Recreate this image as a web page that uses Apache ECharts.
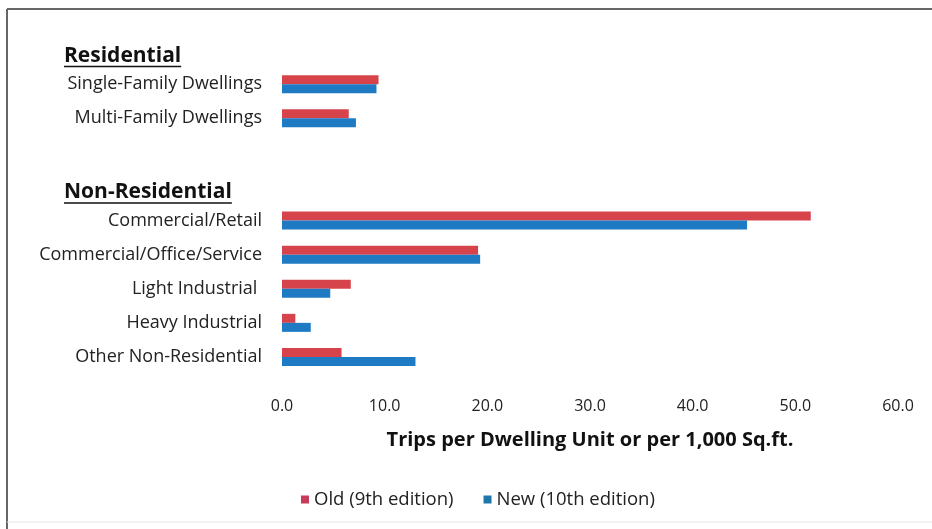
<!DOCTYPE html>
<html>
<head>
<meta charset="utf-8">
<script src="https://cdn.jsdelivr.net/npm/echarts@6/dist/echarts.min.js"></script>
<style>
  html, body { margin: 0; padding: 0; background: #fff; }
  #chart { width: 932px; height: 529px; }
</style>
</head>
<body>
<div id="chart"></div>
<script>
// rows top to bottom; heading rows and the spacer row carry no bars
var categories = ['Residential', 'Single-Family Dwellings', 'Multi-Family Dwellings', ' ',
  'Non-Residential', 'Commercial/Retail', 'Commercial/Office/Service', 'Light Industrial ',
  'Heavy Industrial', 'Other Non-Residential'];
var headings = ['Residential', 'Non-Residential'];
var oldValues = [null, 9.4, 6.5, null, null, 51.5, 19.1, 6.7, 1.3, 5.8];
var newValues = [null, 9.2, 7.2, null, null, 45.3, 19.3, 4.7, 2.8, 13.0];
var seriesNames = ['Old (9th edition)', 'New (10th edition)'];
var axisTitle = 'Trips per Dwelling Unit or per 1,000 Sq.ft.';

var font = '"Open Sans", Lato, sans-serif';
var red = '#d7434b';
var blue = '#1e7bc3';
var headFont = 'bold 21px "Open Sans"';

var chart = echarts.init(document.getElementById('chart'));

var option = {
  animation: false,
  backgroundColor: '#fff',
  textStyle: { fontFamily: font },
  grid: { left: 282, right: 34, top: 33, bottom: 155, containLabel: false },
  legend: {
    top: 485,
    left: 296,
    itemWidth: 8,
    itemHeight: 8,
    itemGap: 30,
    icon: 'rect',
    textStyle: { fontFamily: font, fontSize: 18.5, color: '#222' },
    data: [
      { name: seriesNames[0], itemStyle: { color: '#c93a58' } },
      { name: seriesNames[1], itemStyle: { color: '#1c78aa' } }
    ]
  },
  xAxis: {
    type: 'value',
    min: 0,
    max: 60,
    interval: 10,
    axisLine: { show: false },
    axisTick: { show: false },
    splitLine: { show: false },
    axisLabel: {
      color: '#222', fontSize: 16, margin: 24,
      formatter: function (v) { return v.toFixed(1); }
    },
    name: axisTitle,
    nameLocation: 'middle',
    nameGap: 56,
    nameTextStyle: { fontWeight: 'bold', fontSize: 20, color: '#111', fontFamily: font }
  },
  yAxis: {
    type: 'category',
    inverse: true,
    data: categories,
    axisLine: { show: false },
    axisTick: { show: false },
    axisLabel: {
      color: '#222', fontSize: 18, margin: 20,
      formatter: function (v) { return headings.indexOf(v) >= 0 ? '' : v; }
    }
  },
  series: [
    {
      name: seriesNames[0], type: 'bar', data: oldValues,
      itemStyle: { color: red }, barWidth: 9, barGap: '0%'
    },
    {
      name: seriesNames[1], type: 'bar', data: newValues,
      itemStyle: { color: blue }, barWidth: 9, barGap: '0%'
    }
  ]
};

chart.setOption(option);

// underlined section headings, placed on their category rows
var ctx = document.createElement('canvas').getContext('2d');
ctx.font = headFont;
var graphics = [
  { type: 'line', shape: { x1: 7, y1: 9, x2: 932, y2: 9 }, style: { stroke: '#666', lineWidth: 2 } },
  { type: 'line', shape: { x1: 7, y1: 9, x2: 7, y2: 529 }, style: { stroke: '#666', lineWidth: 2 } },
  { type: 'line', shape: { x1: 7, y1: 522, x2: 932, y2: 522 }, style: { stroke: '#e4e4e4', lineWidth: 1 } }
];
headings.forEach(function (h) {
  var y = chart.convertToPixel({ yAxisIndex: 0 }, h) + 5.5;
  var w = ctx.measureText(h).width;
  graphics.push({
    type: 'text', x: 64, y: y,
    style: { text: h, font: headFont, fill: '#111', verticalAlign: 'middle' }
  });
  graphics.push({
    type: 'line', shape: { x1: 64, y1: y + 11, x2: 64 + w, y2: y + 11 },
    style: { stroke: '#111', lineWidth: 1.5 }
  });
});
chart.setOption({ graphic: graphics });
</script>
</body>
</html>
